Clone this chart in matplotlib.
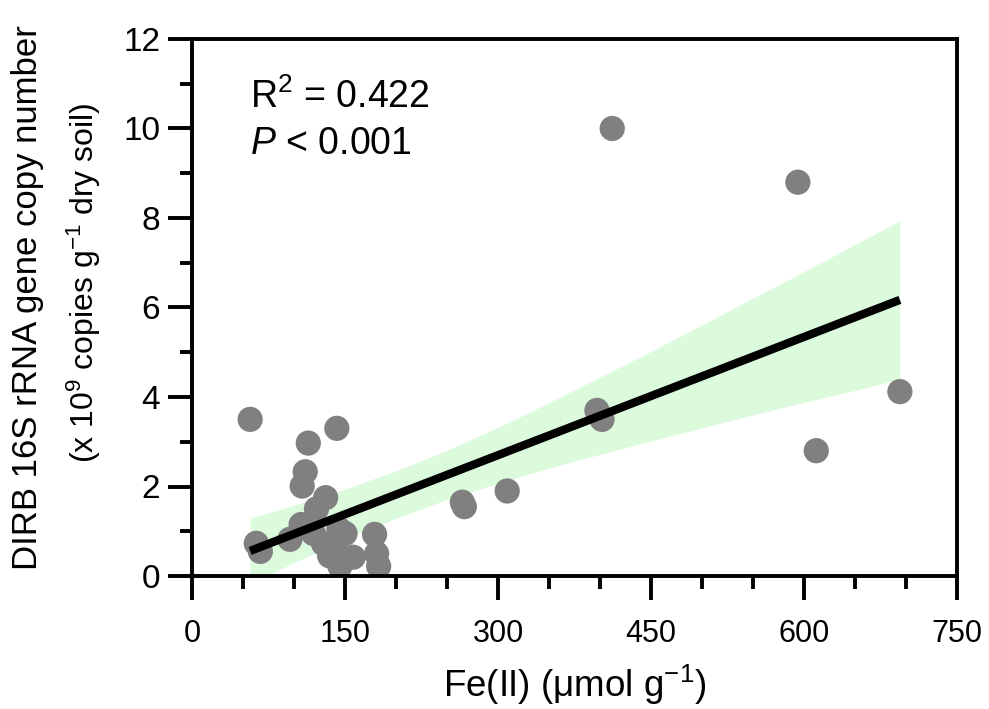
import numpy as np
import matplotlib
matplotlib.use("Agg")
import matplotlib.pyplot as plt
from matplotlib import font_manager
from matplotlib.ticker import MultipleLocator

# ---- data ----
fe2 = [57, 142, 114, 111, 108, 131, 122, 107, 96, 63, 67, 119, 129, 144, 150,
       135, 158, 145, 140, 179, 181, 183, 265, 267, 309, 397, 402, 412, 594,
       612, 694]
dirb = [3.50, 3.30, 2.97, 2.33, 2.01, 1.75, 1.50, 1.15, 0.82, 0.73, 0.55, 0.95,
        0.72, 1.05, 0.95, 0.45, 0.42, 0.22, 0.60, 0.93, 0.50, 0.22, 1.65, 1.55,
        1.90, 3.70, 3.50, 10.0, 8.80, 2.80, 4.12]

# regression line end points and 95% confidence band
fit_x = [57, 694]
fit_y = [0.56, 6.17]
band_x = [57, 100, 150, 200, 250, 300, 350, 400, 450, 500, 550, 600, 650, 694]
band_lo = [-0.17, 0.30, 0.82, 1.29, 1.71, 2.07, 2.41, 2.72, 3.02, 3.31, 3.60,
           3.88, 4.15, 4.40]
band_hi = [1.29, 1.58, 1.94, 2.35, 2.81, 3.32, 3.87, 4.44, 5.02, 5.61, 6.21,
           6.80, 7.41, 7.94]

x_ticks = [0, 150, 300, 450, 600, 750]
y_ticks = [0, 2, 4, 6, 8, 10, 12]
stat_r2 = "0.422"
stat_p = "0.001"

names = {f.name for f in font_manager.fontManager.ttflist}
base_font = "Liberation Sans"
narrow_font = "Liberation Sans Narrow" if "Liberation Sans Narrow" in names else base_font

plt.rcParams["font.family"] = [base_font, "DejaVu Sans"]
plt.rcParams["mathtext.fontset"] = "custom"
plt.rcParams["mathtext.rm"] = base_font
plt.rcParams["mathtext.it"] = base_font + ":italic"

fig = plt.figure(figsize=(9.89, 7.09), dpi=100)
ax = fig.add_axes([192 / 989, 1 - 576 / 709, (957 - 192) / 989, (576 - 39) / 709])

ax.fill_between(band_x, band_lo, band_hi, color="#dcfadc", lw=0, zorder=1)
ax.scatter(fe2, dirb, s=330, color="#808080", edgecolors="none", zorder=2)
ax.plot(fit_x, fit_y, color="black", lw=6, solid_capstyle="butt", zorder=3)

ax.set_xlim(0, 750)
ax.set_ylim(0, 12)
ax.set_xticks(x_ticks)
ax.set_yticks(y_ticks)
ax.xaxis.set_minor_locator(MultipleLocator(50))
ax.yaxis.set_minor_locator(MultipleLocator(1))
for sp in ax.spines.values():
    sp.set_linewidth(2.8)
ax.tick_params(which="major", direction="out", length=17, width=2.8, top=False, right=False)
ax.tick_params(which="minor", direction="out", length=9, width=2.8, top=False, right=False)
ax.tick_params(axis="y", which="major", labelsize=24, pad=6)
ax.tick_params(axis="x", which="major", labelsize=22, pad=14)
for lab in ax.get_xticklabels():
    lab.set_fontfamily([narrow_font, "DejaVu Sans"])

ax.set_xlabel(r"Fe(II) (μmol g$^{-1}$)", fontsize=26.5, labelpad=10)

fig.text(28 / 989, 1 - 298 / 709, "DIRB 16S rRNA gene copy number", rotation=90,
         fontsize=25, ha="center", va="center")
fig.text(84 / 989, 1 - 283 / 709, r"(x 10$^{9}$ copies g$^{-1}$ dry soil)", rotation=90,
         fontsize=23, ha="center", va="center", fontfamily=[narrow_font, "DejaVu Sans"])

ax.text(57, 10.7, "R$^{2}$ = " + stat_r2, fontsize=27, ha="left", va="center")
ax.text(57, 9.65, "$\\it{P}$ < " + stat_p, fontsize=27, ha="left", va="center")

fig.savefig("out.png", dpi=100)
